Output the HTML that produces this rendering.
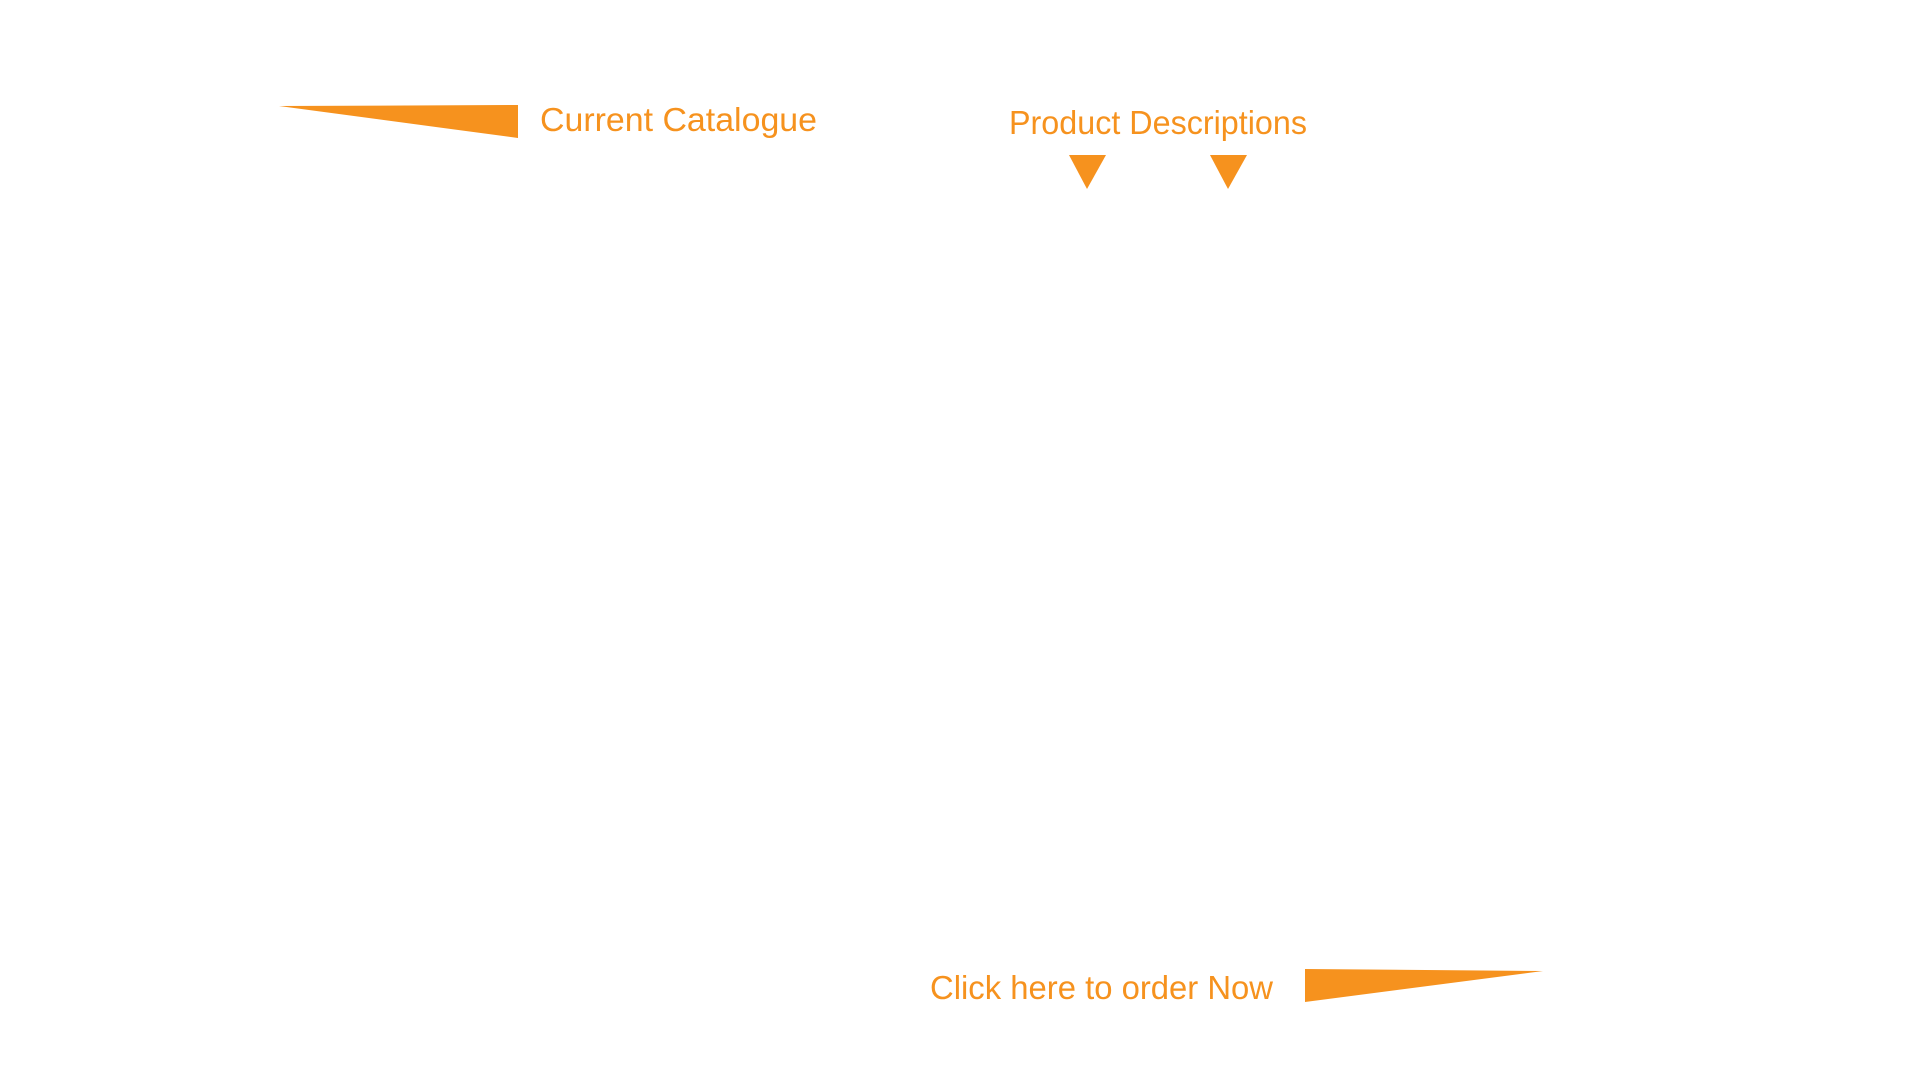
<!DOCTYPE html>
<html><head><meta charset="utf-8"><style>
html,body{margin:0;padding:0;background:#fff;width:1920px;height:1080px;overflow:hidden}
svg{display:block}
text{font-family:"Liberation Sans",sans-serif;fill:#f6921e;font-size:33px}
</style></head><body>
<svg width="1920" height="1080" viewBox="0 0 1920 1080">
<polygon points="279,106 518,105 518,138" fill="#f6921e"/>
<text x="540" y="131" textLength="277" lengthAdjust="spacingAndGlyphs">Current Catalogue</text>
<text x="1009" y="134" textLength="298" lengthAdjust="spacingAndGlyphs">Product Descriptions</text>
<polygon points="1069,155 1106,155 1087,189" fill="#f6921e"/>
<polygon points="1210,155 1247,155 1228,189" fill="#f6921e"/>
<text x="930" y="999" textLength="343" lengthAdjust="spacingAndGlyphs">Click here to order Now</text>
<polygon points="1305,969 1543,971 1305,1002" fill="#f6921e"/>
</svg>
</body></html>
